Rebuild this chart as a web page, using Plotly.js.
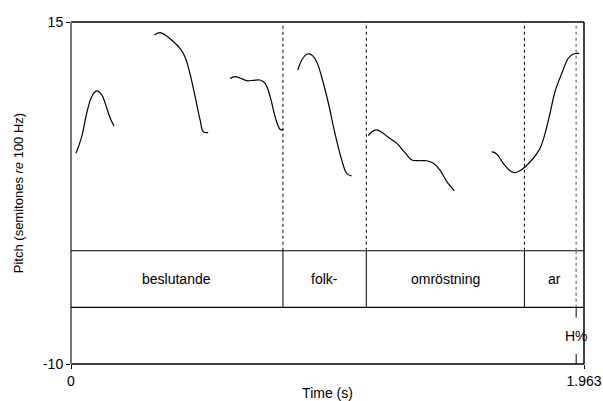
<!DOCTYPE html>
<html>
<head>
<meta charset="utf-8">
<script src="https://cdn.plot.ly/plotly-3.0.1.min.js"></script>
<style>html,body{margin:0;padding:0;background:#fff}#chart{width:603px;height:401px}</style>
</head>
<body>
<div id="chart"></div>
<script>
// Pitch contour segments (time in s, pitch in semitones re 100 Hz)
const seg1_t = [0.019,0.041,0.060,0.079,0.098,0.118,0.137,0.153,0.165];
const seg1_p = [5.40,6.62,8.33,9.54,9.96,9.66,8.69,7.84,7.40];
const seg2_t = [0.319,0.341,0.360,0.385,0.417,0.436,0.455,0.475,0.494,0.506,0.525];
const seg2_p = [14.05,14.22,14.05,13.68,13.08,12.46,11.25,9.54,7.84,6.98,6.91];
const seg3_t = [0.609,0.628,0.647,0.672,0.698,0.723,0.743,0.762,0.781,0.800,0.813];
const seg3_p = [10.88,11.00,10.91,10.71,10.74,10.76,10.52,9.54,8.08,7.16,7.11];
const seg4_t = [0.868,0.883,0.902,0.921,0.940,0.959,0.985,1.010,1.036,1.055,1.074];
const seg4_p = [11.49,12.22,12.64,12.59,12.10,11.00,9.06,6.86,4.91,3.94,3.74];
const seg5_t = [1.138,1.151,1.170,1.189,1.214,1.247,1.278,1.304,1.329,1.361,1.387,1.412,1.438,1.467];
const seg5_p = [6.69,6.98,7.11,6.94,6.57,6.13,5.45,4.91,4.86,4.86,4.67,4.18,3.33,2.65];
const seg6_t = [1.610,1.629,1.654,1.680,1.697,1.718,1.738,1.769,1.795,1.814,1.833,1.852,1.878,1.903,1.922,1.945];
const seg6_p = [5.52,5.35,4.67,4.13,3.98,4.13,4.42,5.04,5.77,6.86,8.33,9.90,11.25,12.35,12.66,12.71];

// TextGrid tiers
const wordLabels = ["beslutande","folk-","omröstning","ar"];
const wordBounds = [0, 0.811, 1.130, 1.735, 1.963];
const toneLabels = ["H%"];
const toneTimes = [1.933];

// axis
const tMin = 0, tMax = 1.963;
const pMin = -10, pMax = 15;
const xTickVals = [0, 1.963];
const xTickText = ["0", "1.963"];
const yTickVals = [-10, 15];
const yTickText = ["-10", "15"];

const tierTop = -1.72, tierMid = -5.86;

const segs = [[seg1_t,seg1_p],[seg2_t,seg2_p],[seg3_t,seg3_p],[seg4_t,seg4_p],[seg5_t,seg5_p],[seg6_t,seg6_p]];
const traces = segs.map(s => ({
  x: s[0], y: s[1], type: 'scatter', mode: 'lines',
  line: {color: '#000', width: 1.2, shape: 'spline', smoothing: 1},
  hoverinfo: 'skip', showlegend: false
}));

const shapes = [];
// frame
shapes.push({type:'line', xref:'paper', yref:'paper', x0:0, x1:1, y0:1, y1:1, line:{color:'#000', width:1.5}});
shapes.push({type:'line', xref:'paper', yref:'paper', x0:1, x1:1, y0:0, y1:1, line:{color:'#000', width:1.5}});
shapes.push({type:'line', xref:'paper', yref:'paper', x0:0, x1:1, y0:0, y1:0, line:{color:'#000', width:1.5}});
shapes.push({type:'line', xref:'paper', yref:'paper', x0:0, x1:0, y0:0, y1:1, line:{color:'#777', width:2}});
// tier horizontal lines
[tierTop, tierMid].forEach(v => shapes.push({type:'line', xref:'paper', yref:'y', x0:0, x1:1, y0:v, y1:v, line:{color:'#000', width:1.2}}));
// word boundaries
wordBounds.slice(1, -1).forEach(b => {
  shapes.push({type:'line', x0:b, x1:b, y0:tierTop, y1:pMax, line:{color:'#000', width:1, dash:'dot'}});
  shapes.push({type:'line', x0:b, x1:b, y0:tierMid, y1:tierTop, line:{color:'#000', width:1}});
});
// tone points
toneTimes.forEach(t => {
  shapes.push({type:'line', x0:t, x1:t, y0:tierTop, y1:pMax, line:{color:'#888', width:1.5, dash:'dot'}});
  shapes.push({type:'line', x0:t, x1:t, y0:tierTop, y1:tierMid, line:{color:'#888', width:1.5, dash:'dot'}});
  shapes.push({type:'line', x0:t, x1:t, y0:tierMid, y1:tierMid-0.75, line:{color:'#000', width:1}});
  shapes.push({type:'line', x0:t, x1:t, y0:pMin+0.75, y1:pMin, line:{color:'#000', width:1}});
});

const annotations = [];
wordLabels.forEach((w, i) => annotations.push({
  x: (wordBounds[i] + wordBounds[i+1]) / 2, y: (tierTop + tierMid) / 2,
  text: w, showarrow: false, font: {size: 14, color: '#000'}
}));
toneLabels.forEach((w, i) => annotations.push({
  x: toneTimes[i], y: (tierMid + pMin) / 2, text: w, showarrow: false,
  font: {size: 14, color: '#000'}
}));

const layout = {
  width: 603, height: 401,
  margin: {l: 71, r: 19, t: 22, b: 37},
  paper_bgcolor: '#fff', plot_bgcolor: '#fff',
  font: {family: '"Liberation Sans", Arial, sans-serif', size: 14, color: '#000'},
  xaxis: {
    range: [tMin, tMax], tickvals: xTickVals, ticktext: xTickText,
    ticks: 'outside', ticklen: 4, tickcolor: '#000', tickwidth: 1,
    tickfont: {size: 14},
    showgrid: false, zeroline: false, showline: false,
    title: {text: 'Time (s)', standoff: 1, font: {size: 14}}
  },
  yaxis: {
    range: [pMin, pMax], tickvals: yTickVals, ticktext: yTickText,
    ticks: 'outside', ticklen: 4, tickcolor: '#000', tickwidth: 1,
    tickfont: {size: 14},
    showgrid: false, zeroline: false, showline: false,
    title: {text: 'Pitch (semitones <i>re</i> 100 Hz)', standoff: 16, font: {size: 13}}
  },
  shapes: shapes,
  annotations: annotations,
  showlegend: false
};

Plotly.newPlot('chart', traces, layout, {staticPlot: true, displayModeBar: false});
</script>
</body>
</html>
